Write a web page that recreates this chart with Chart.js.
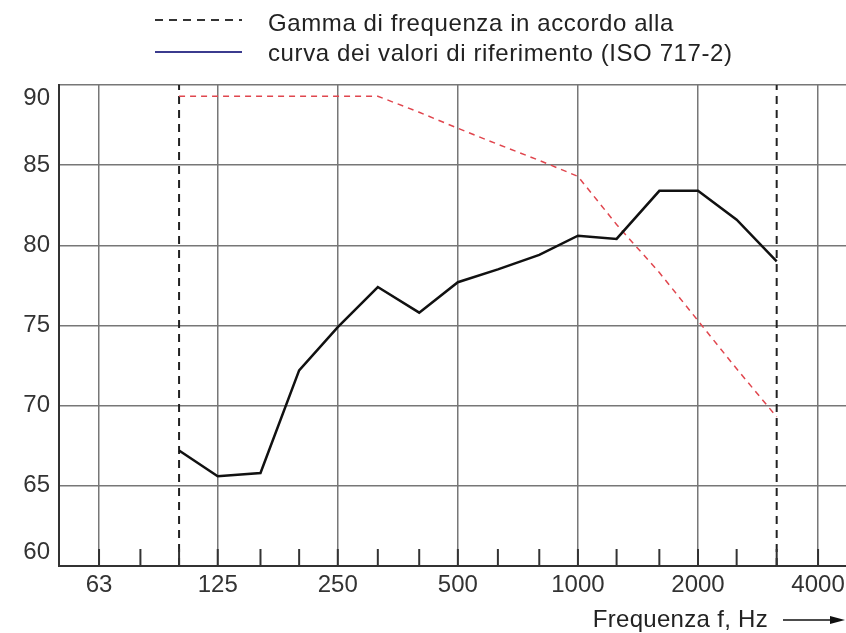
<!DOCTYPE html>
<html>
<head>
<meta charset="utf-8">
<script src="https://cdn.jsdelivr.net/npm/chart.js@4.4.1/dist/chart.umd.min.js"></script>
<style>
  html, body { margin: 0; padding: 0; background: #fff; }
  #wrap { width: 846px; height: 633px; }
</style>
</head>
<body>
<div id="wrap"><canvas id="chart"></canvas></div>
<script>
// third-octave bands shown on the x axis (short ticks), octave labels
const bands = [50, 63, 80, 100, 125, 160, 200, 250, 315, 400, 500, 630, 800, 1000, 1250, 1600, 2000, 2500, 3150, 4000];
const octaveLabels = ['63', '125', '250', '500', '1000', '2000', '4000'];
const yTicks = [60, 65, 70, 75, 80, 85, 90];

// measured curve and shifted reference curve (ISO 717-2)
const measuredFreq = [100, 125, 160, 200, 250, 315, 400, 500, 630, 800, 1000, 1250, 1600, 2000, 2500, 3150];
const measured = [67.2, 65.6, 65.8, 72.2, 74.9, 77.4, 75.8, 77.7, 78.5, 79.4, 80.6, 80.4, 83.4, 83.4, 81.6, 79.0];
const reference = [89.3, 89.3, 89.3, 89.3, 89.3, 89.3, 88.3, 87.3, 86.3, 85.3, 84.3, 81.3, 78.3, 75.3, 72.3, 69.3];
const rangeLimits = [100, 3150];

const legendTexts = ['Gamma di frequenza in accordo alla', 'curva dei valori di riferimento (ISO 717-2)'];
const axisTitle = 'Frequenza f, Hz';

const FONT = '"Liberation Sans", Arial, sans-serif';
Chart.defaults.font.family = FONT;

const toPoints = (xs, ys) => xs.map((x, i) => ({ x, y: ys[i] }));

const limitSets = rangeLimits.map(f => ({
    data: [{ x: f, y: yTicks[0] }, { x: f, y: yTicks[yTicks.length - 1] }],
    borderColor: '#222',
    borderWidth: 2,
    borderDash: [8, 6],
    pointRadius: 0
}));

// short inward ticks at every band, legend and axis arrow
const extras = {
    id: 'extras',
    afterDatasetsDraw(chart) {
        const { ctx, chartArea, scales } = chart;
        ctx.save();
        ctx.strokeStyle = '#333';
        ctx.lineWidth = 2;
        bands.forEach(f => {
            const x = scales.x.getPixelForValue(f);
            if (x <= chartArea.left + 1 || x > chartArea.right) return;
            ctx.beginPath();
            ctx.moveTo(x, chartArea.bottom);
            ctx.lineTo(x, chartArea.bottom - 17);
            ctx.stroke();
        });

        // legend
        ctx.font = '24px ' + FONT;
        ctx.fillStyle = '#222';
        ctx.textBaseline = 'alphabetic';
        ctx.textAlign = 'left';
        ctx.letterSpacing = '0.6px';
        ctx.fillText(legendTexts[0], 268, 31);
        ctx.fillText(legendTexts[1], 268, 61);
        ctx.letterSpacing = '0px';
        ctx.lineWidth = 2;
        ctx.setLineDash([8, 6]);
        ctx.beginPath();
        ctx.moveTo(155, 20);
        ctx.lineTo(242, 20);
        ctx.stroke();
        ctx.setLineDash([]);
        ctx.strokeStyle = '#3b3b8e';
        ctx.beginPath();
        ctx.moveTo(155, 52);
        ctx.lineTo(242, 52);
        ctx.stroke();

        // x axis title with arrow
        const w = chart.width;
        ctx.fillStyle = '#222';
        ctx.textAlign = 'right';
        ctx.textBaseline = 'middle';
        ctx.letterSpacing = '0.3px';
        ctx.fillText(axisTitle, w - 78, 620);
        ctx.letterSpacing = '0px';
        ctx.strokeStyle = '#111';
        ctx.lineWidth = 1.5;
        ctx.beginPath();
        ctx.moveTo(w - 63, 620);
        ctx.lineTo(w - 12, 620);
        ctx.stroke();
        ctx.fillStyle = '#111';
        ctx.beginPath();
        ctx.moveTo(w - 1, 620);
        ctx.lineTo(w - 16, 616);
        ctx.lineTo(w - 16, 624);
        ctx.closePath();
        ctx.fill();
        ctx.restore();
    }
};

new Chart(document.getElementById('chart'), {
    type: 'line',
    data: {
        datasets: [
            {
                data: toPoints(measuredFreq, measured),
                borderColor: '#111',
                borderWidth: 2.5,
                pointRadius: 0,
                tension: 0
            },
            {
                data: toPoints(measuredFreq, reference),
                borderColor: '#e0464e',
                borderWidth: 1.5,
                borderDash: [6, 5],
                pointRadius: 0,
                tension: 0
            },
            ...limitSets
        ]
    },
    options: {
        responsive: true,
        maintainAspectRatio: false,
        animation: false,
        layout: { padding: { top: 85, left: 0, right: 0, bottom: 0 } },
        plugins: {
            legend: { display: false },
            tooltip: { enabled: false }
        },
        scales: {
            x: {
                type: 'logarithmic',
                min: 50,
                max: 4700,
                afterBuildTicks: s => { s.ticks = bands.map(v => ({ value: v })); },
                afterFit: s => {
                    s.height = 67;
                    s.paddingLeft = 0;
                    s.paddingRight = 0;
                },
                grid: {
                    color: c => (c.tick && octaveLabels.includes(String(c.tick.value))) ? '#777' : 'rgba(0,0,0,0)',
                    lineWidth: 1.5,
                    drawTicks: false
                },
                border: { color: '#333', width: 2 },
                ticks: {
                    autoSkip: false,
                    maxRotation: 0,
                    padding: 5,
                    color: '#333',
                    font: { size: 24 },
                    callback: v => octaveLabels.includes(String(v)) ? String(v) : ''
                }
            },
            y: {
                min: 60,
                max: 90,
                afterBuildTicks: s => { s.ticks = yTicks.map(v => ({ value: v })); },
                afterFit: s => { s.width = 59; },
                grid: { color: '#777', lineWidth: 1.5, drawTicks: false },
                border: { color: '#333', width: 2 },
                ticks: {
                    padding: 9,
                    color: '#333',
                    font: { size: 24, lineHeight: 1.1 },
                    // edge labels sit inside the frame, as in the original
                    callback: v => v === yTicks[yTicks.length - 1] ? ['', String(v)]
                        : v === yTicks[0] ? [String(v), ''] : String(v)
                }
            }
        }
    },
    plugins: [extras]
});
</script>
</body>
</html>
